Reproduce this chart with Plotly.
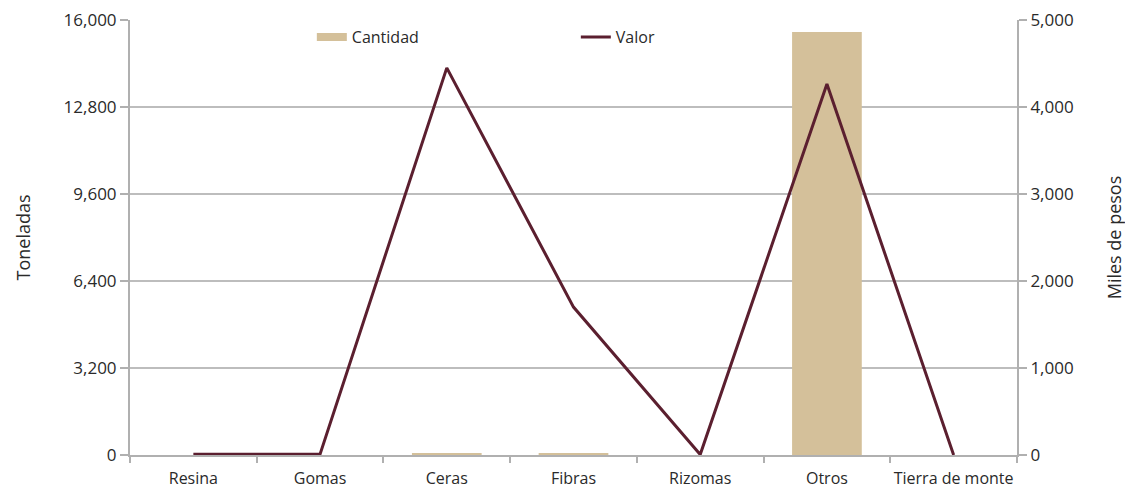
import plotly.graph_objects as go

categories = ["Resina", "Gomas", "Ceras", "Fibras", "Rizomas", "Otros", "Tierra de monte"]
cantidad = [0, 0, 60, 60, 0, 15560, 0]
valor = [10, 10, 4450, 1700, 5, 4265, 0]

left_ticks = [0, 3200, 6400, 9600, 12800, 16000]
right_ticks = [0, 1000, 2000, 3000, 4000, 5000]

grey = "#b0b0b0"
tan = "#d4c09a"
maroon = "#5b1f2f"
txt = "#2a2a2a"
font_main = "Open Sans"

fig = go.Figure()
fig.add_trace(go.Bar(
    x=categories, y=cantidad, name="Cantidad",
    marker=dict(color=tan, line=dict(width=0)),
    width=0.55, yaxis="y", showlegend=False,
))
# legend entry for the bars drawn as a wide band, like the reference
fig.add_trace(go.Scatter(
    x=[None], y=[None], name="Cantidad", mode="lines",
    line=dict(color=tan, width=8), yaxis="y",
))
fig.add_trace(go.Scatter(
    x=categories, y=valor, name="Valor", mode="lines",
    line=dict(color=maroon, width=3), yaxis="y2",
))

fig.update_layout(
    width=1133, height=496,
    margin=dict(l=122, r=124, t=12, b=49),
    paper_bgcolor="white", plot_bgcolor="white",
    font=dict(family=font_main, size=16, color=txt),
    showlegend=True,
    legend=dict(orientation="h", x=0.205, y=1.0, xanchor="left", yanchor="top",
                bgcolor="rgba(0,0,0,0)", entrywidth=219, entrywidthmode="pixels",
                font=dict(family=font_main, size=16, color=txt)),
    xaxis=dict(
        type="category", showline=True, linecolor=grey, linewidth=2,
        ticks="outside", tickson="boundaries", ticklen=6, tickcolor=grey, tickwidth=2,
        tickfont=dict(family=font_main, size=16, color=txt), tickangle=0,
        ticklabelstandoff=8,
        showgrid=False, range=[-0.5, 6.5], automargin=False,
    ),
    yaxis=dict(
        range=[0, 16000], tickvals=left_ticks,
        ticktext=[f"{v:,}" for v in left_ticks],
        showline=True, linecolor=grey, linewidth=2,
        ticks="outside", ticklen=8, tickcolor=grey, tickwidth=2,
        showgrid=True, gridcolor="#bdbdbd", gridwidth=1.5,
        title=dict(text="Toneladas", font=dict(size=18, family=font_main, color=txt), standoff=28),
        tickfont=dict(size=17, family=font_main, color=txt),
        ticklabeloverflow="allow", automargin="left",
        zeroline=False,
    ),
    yaxis2=dict(
        range=[0, 5000], tickvals=right_ticks,
        ticktext=[f"{v:,}" for v in right_ticks],
        overlaying="y", side="right",
        showline=True, linecolor=grey, linewidth=2,
        ticks="outside", ticklen=8, tickcolor=grey, tickwidth=2,
        showgrid=False, zeroline=False,
        title=dict(text="Miles de pesos", font=dict(size=18, family=font_main, color=txt), standoff=36),
        tickfont=dict(size=17, family=font_main, color=txt),
        ticklabeloverflow="allow", automargin="right",
    ),
)

fig.write_html("out.html")
